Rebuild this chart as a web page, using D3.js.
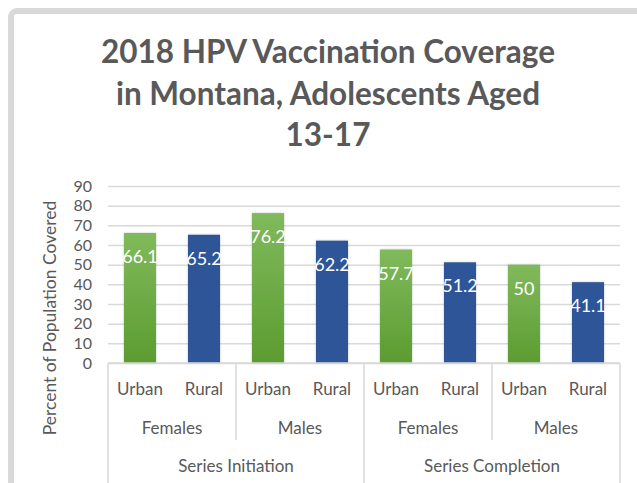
<!DOCTYPE html>
<html>
<head>
<meta charset="utf-8">
<script src="https://cdn.jsdelivr.net/npm/d3@7"></script>
<style>
  body { margin: 0; background: #fff; }
  svg { display: block; font-family: Lato, "Open Sans", sans-serif; }
</style>
</head>
<body>
<svg></svg>
<script>
const width = 637, height = 483;

// data
const categories = ["Urban", "Rural", "Urban", "Rural", "Urban", "Rural", "Urban", "Rural"];
const sexes = ["Females", "Males", "Females", "Males"];
const stages = ["Series Initiation", "Series Completion"];
const values = [66.1, 65.2, 76.2, 62.2, 57.7, 51.2, 50, 41.1];
const y_ticks = [0, 10, 20, 30, 40, 50, 60, 70, 80, 90];
const title_lines = ["2018 HPV Vaccination Coverage", "in Montana, Adolescents Aged", "13-17"];

const margin = { left: 108, right: 17, top: 186, bottom: 120 };

const svg = d3.select("svg").attr("width", width).attr("height", height);

const defs = svg.append("defs");
const grad = defs.append("linearGradient")
  .attr("id", "green_grad").attr("x1", 0).attr("y1", 0).attr("x2", 0).attr("y2", 1);
grad.append("stop").attr("offset", "0%").attr("stop-color", "#80ba5c");
grad.append("stop").attr("offset", "100%").attr("stop-color", "#5c9c30");

const shadow = defs.append("filter").attr("id", "shadow")
  .attr("x", "-20%").attr("y", "-20%").attr("width", "140%").attr("height", "140%");
shadow.append("feDropShadow").attr("dx", 0).attr("dy", 0).attr("stdDeviation", 1.2)
  .attr("flood-color", "#000").attr("flood-opacity", 0.25);

// outer frame
svg.append("rect")
  .attr("x", 11).attr("y", 11)
  .attr("width", 660).attr("height", 520)
  .attr("rx", 6)
  .attr("fill", "#fff")
  .attr("stroke", "#d9d9d9")
  .attr("stroke-width", 6);

const x_scale = d3.scaleBand()
  .domain(d3.range(categories.length))
  .range([margin.left, width - margin.right])
  .paddingInner(0.5)
  .paddingOuter(0.25);

const y_scale = d3.scaleLinear()
  .domain([0, 90])
  .range([height - margin.bottom, margin.top]);

// title
svg.append("g").selectAll("text")
  .data(title_lines)
  .join("text")
  .attr("x", 328)
  .attr("y", (d, i) => 63 + i * 41.5)
  .attr("text-anchor", "middle")
  .attr("fill", "#595959")
  .style("font-size", "31.5px")
  .style("font-weight", "bold")
  .text(d => d);

// y axis with gridlines
const y_axis = d3.axisLeft(y_scale)
  .tickValues(y_ticks)
  .tickSize(-(width - margin.left - margin.right))
  .tickPadding(16);

svg.append("g")
  .attr("transform", `translate(${margin.left},0)`)
  .call(y_axis)
  .call(g => g.select(".domain").remove())
  .call(g => g.selectAll(".tick line").attr("stroke", "#d9d9d9").attr("stroke-width", 1.5))
  .call(g => g.selectAll(".tick text")
    .attr("fill", "#595959")
    .style("font-size", "16px")
    .style("font-family", "Lato, sans-serif"));

// bars
svg.append("g").selectAll("rect")
  .data(values)
  .join("rect")
  .attr("x", (d, i) => x_scale(i))
  .attr("y", d => y_scale(d))
  .attr("width", x_scale.bandwidth())
  .attr("height", d => y_scale(0) - y_scale(d))
  .attr("fill", (d, i) => i % 2 === 0 ? "url(#green_grad)" : "#2f5597")
  .attr("filter", "url(#shadow)");

// data labels
svg.append("g").selectAll("text")
  .data(values)
  .join("text")
  .attr("x", (d, i) => x_scale(i) + x_scale.bandwidth() / 2)
  .attr("y", d => y_scale(d) + 30)
  .attr("text-anchor", "middle")
  .attr("fill", "#fff")
  .style("font-size", "18px")
  .text(d => d);

// multi-level category axis
const axis_y = y_scale(0);
const step = x_scale.step();
const x0 = margin.left, x1 = width - margin.right;
const axis_g = svg.append("g");

axis_g.append("line")
  .attr("x1", x0).attr("x2", x1)
  .attr("y1", axis_y).attr("y2", axis_y)
  .attr("stroke", "#d9d9d9").attr("stroke-width", 1.5);

// separators between sex groups (rows 1-2), stage groups go to the bottom
d3.range(sexes.length + 1).forEach(i => {
  const xs = x0 + i * 2 * step;
  const full = i % 2 === 0;
  axis_g.append("line")
    .attr("x1", xs).attr("x2", xs)
    .attr("y1", axis_y).attr("y2", full ? height : axis_y + 77)
    .attr("stroke", "#d9d9d9").attr("stroke-width", 1.5);
});

axis_g.selectAll(".cat")
  .data(categories)
  .join("text")
  .attr("class", "cat")
  .attr("x", (d, i) => x_scale(i) + x_scale.bandwidth() / 2)
  .attr("y", axis_y + 32)
  .attr("text-anchor", "middle")
  .attr("fill", "#595959")
  .style("font-size", "17px")
  .text(d => d);

axis_g.selectAll(".sex")
  .data(sexes)
  .join("text")
  .attr("class", "sex")
  .attr("x", (d, i) => x0 + (i + 0.5) * 2 * step)
  .attr("y", axis_y + 71)
  .attr("text-anchor", "middle")
  .attr("fill", "#595959")
  .style("font-size", "17px")
  .text(d => d);

axis_g.selectAll(".stage")
  .data(stages)
  .join("text")
  .attr("class", "stage")
  .attr("x", (d, i) => x0 + (i + 0.5) * 4 * step)
  .attr("y", axis_y + 109)
  .attr("text-anchor", "middle")
  .attr("fill", "#595959")
  .style("font-size", "17px")
  .text(d => d);

// y label
svg.append("text")
  .attr("transform", `translate(56, 318) rotate(-90)`)
  .attr("text-anchor", "middle")
  .attr("fill", "#595959")
  .style("font-size", "17.5px")
  .text("Percent of Population Covered");
</script>
</body>
</html>
